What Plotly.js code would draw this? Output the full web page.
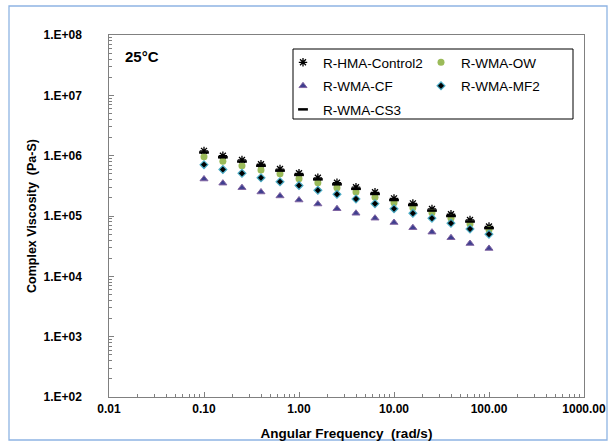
<!DOCTYPE html>
<html>
<head>
<meta charset="utf-8">
<script src="https://cdn.plot.ly/plotly-3.0.1.min.js"></script>
<style>
html, body { margin: 0; padding: 0; background: #ffffff; }
#chart { width: 616px; height: 445px; }
</style>
</head>
<body>
<div id="chart"></div>
<script>
// Angular frequency (rad/s)
var freq = [0.1, 0.158, 0.251, 0.398, 0.631, 1, 1.58, 2.51, 3.98, 6.31, 10, 15.8, 25.1, 39.8, 63.1, 100];
// Complex viscosity (Pa-s) per mix
var control2 = [1.20e6, 1.00e6, 8.5e5, 7.2e5, 6.0e5, 5.1e5, 4.3e5, 3.56e5, 3.0e5, 2.47e5, 1.96e5, 1.62e5, 1.31e5, 1.07e5, 8.6e4, 6.7e4];
var ow = [9.6e5, 8.1e5, 6.8e5, 5.8e5, 5.0e5, 4.15e5, 3.56e5, 2.95e5, 2.5e5, 2.04e5, 1.66e5, 1.37e5, 1.13e5, 9.2e4, 7.4e4, 5.9e4];
var cf = [4.1e5, 3.5e5, 2.95e5, 2.5e5, 2.15e5, 1.84e5, 1.58e5, 1.32e5, 1.11e5, 9.2e4, 7.8e4, 6.4e4, 5.4e4, 4.36e4, 3.5e4, 2.9e4];
var mf2 = [7.1e5, 5.9e5, 5.1e5, 4.3e5, 3.7e5, 3.2e5, 2.67e5, 2.29e5, 1.92e5, 1.6e5, 1.32e5, 1.11e5, 9.2e4, 7.6e4, 6.1e4, 5.0e4];
var cs3 = [1.13e6, 9.4e5, 8.0e5, 6.8e5, 5.65e5, 4.8e5, 4.05e5, 3.35e5, 2.82e5, 2.32e5, 1.84e5, 1.52e5, 1.23e5, 1.0e5, 8.1e4, 6.3e4];

var seriesNames = ['R-HMA-Control2', 'R-WMA-OW', 'R-WMA-CF', 'R-WMA-MF2', 'R-WMA-CS3'];

var xTickVals = [0.01, 0.1, 1, 10, 100, 1000];
var xTickText = ['0.01', '0.10', '1.00', '10.00', '100.00', '1000.00'];
var yTickVals = [1e2, 1e3, 1e4, 1e5, 1e6, 1e7, 1e8];
var yTickText = ['1.E+02', '1.E+03', '1.E+04', '1.E+05', '1.E+06', '1.E+07', '1.E+08'];

var FONT = 'Arial, "Liberation Sans", sans-serif';
// invisible spacer that pushes the y tick labels away from the axis
var PAD = '<span style="color:#ffffff">000.</span>';

var traces = [
  {x: freq, y: control2, name: seriesNames[0], mode: 'markers', type: 'scatter', legend: 'legend', legendgroup: 'g1',
   marker: {symbol: 'asterisk-open', size: 7, color: '#000000', line: {color: '#000000', width: 1.3}}},
  {x: freq, y: ow, name: seriesNames[1], mode: 'markers', type: 'scatter', legend: 'legend2', legendgroup: 'g2',
   marker: {symbol: 'circle', size: 7, color: '#9BBB59', line: {color: '#9BBB59', width: 0}}},
  {x: freq, y: cf, name: seriesNames[2], mode: 'markers', type: 'scatter', legend: 'legend', legendgroup: 'g3',
   marker: {symbol: 'triangle-up', size: 7, color: '#3F3F8F', line: {color: '#8064A2', width: 1}}},
  {x: freq, y: mf2, name: seriesNames[3], mode: 'markers', type: 'scatter', legend: 'legend2', legendgroup: 'g4',
   marker: {symbol: 'diamond', size: 6, color: '#000000', line: {color: '#4BACC6', width: 1.2}}},
  {x: freq, y: cs3, name: seriesNames[4], mode: 'markers', type: 'scatter', legend: 'legend', legendgroup: 'g5',
   marker: {symbol: 'line-ew-open', size: 7, color: '#000000', line: {color: '#000000', width: 2.5}}}
];

var legendCommon = {
  orientation: 'v', bgcolor: 'rgba(0,0,0,0)', borderwidth: 0,
  font: {family: FONT, size: 13.5, color: '#000000'},
  tracegroupgap: 3, xanchor: 'left', yanchor: 'top', traceorder: 'grouped'
};

var layout = {
  width: 616, height: 445,
  margin: {l: 109, r: 32, t: 35, b: 48},
  paper_bgcolor: '#ffffff', plot_bgcolor: '#ffffff',
  font: {family: FONT, color: '#000000'},
  showlegend: true,
  xaxis: {
    type: 'log', range: [-2, 3],
    tickmode: 'array', tickvals: xTickVals, ticktext: xTickText,
    ticks: 'inside', ticklen: 5, tickcolor: '#808080', tickwidth: 1,
    minor: {dtick: 'D1', ticks: 'inside', ticklen: 3, tickcolor: '#808080', showgrid: false},
    showgrid: false, zeroline: false,
    showline: true, mirror: true, linecolor: '#808080', linewidth: 1.3,
    tickfont: {family: FONT, size: 12, color: '#000000', weight: 'bold'},
    title: {text: 'Angular Frequency\u00A0 (rad/s)', font: {family: FONT, size: 13.5, color: '#000000', weight: 'bold'}, standoff: 13}
  },
  yaxis: {
    type: 'log', range: [2, 8],
    tickmode: 'array', tickvals: yTickVals, ticktext: yTickText.map(function (t) { return t + PAD; }),
    ticks: 'inside', ticklen: 5, tickcolor: '#808080', tickwidth: 1,
    minor: {dtick: 'D1', ticks: 'inside', ticklen: 3, tickcolor: '#808080', showgrid: false},
    showgrid: false, zeroline: false,
    showline: true, mirror: true, linecolor: '#808080', linewidth: 1.3,
    tickfont: {family: FONT, size: 12, color: '#000000', weight: 'bold'},
    title: {text: 'Complex Viscosity\u00A0 (Pa-S)', font: {family: FONT, size: 12.5, color: '#000000', weight: 'bold'}, standoff: 4}
  },
  legend: Object.assign({}, legendCommon, {x: (283 - 109) / 475, y: (397 - 47) / 362}),
  legend2: Object.assign({}, legendCommon, {x: (421 - 109) / 475, y: (397 - 47) / 362}),
  shapes: [
    {type: 'rect', xref: 'paper', yref: 'paper', layer: 'below',
     x0: (9 - 109) / 475, x1: (607 - 109) / 475, y0: (397 - 440) / 362, y1: (397 - 6) / 362,
     line: {color: '#8EB4E3', width: 1.3}, fillcolor: 'rgba(0,0,0,0)'},
    {type: 'rect', xref: 'paper', yref: 'paper', layer: 'above',
     x0: (293 - 109) / 475, x1: (573 - 109) / 475, y0: (397 - 119) / 362, y1: (397 - 49) / 362,
     line: {color: '#000000', width: 1}, fillcolor: 'rgba(0,0,0,0)'}
  ],
  annotations: [
    {text: '25°C', xref: 'paper', yref: 'paper', x: (123 - 109) / 475, y: (397 - 57) / 362,
     xanchor: 'left', yanchor: 'middle', showarrow: false,
     font: {family: FONT, size: 15, color: '#000000', weight: 'bold'}}
  ]
};

Plotly.newPlot('chart', traces, layout, {displayModeBar: false, staticPlot: true});
</script>
</body>
</html>
